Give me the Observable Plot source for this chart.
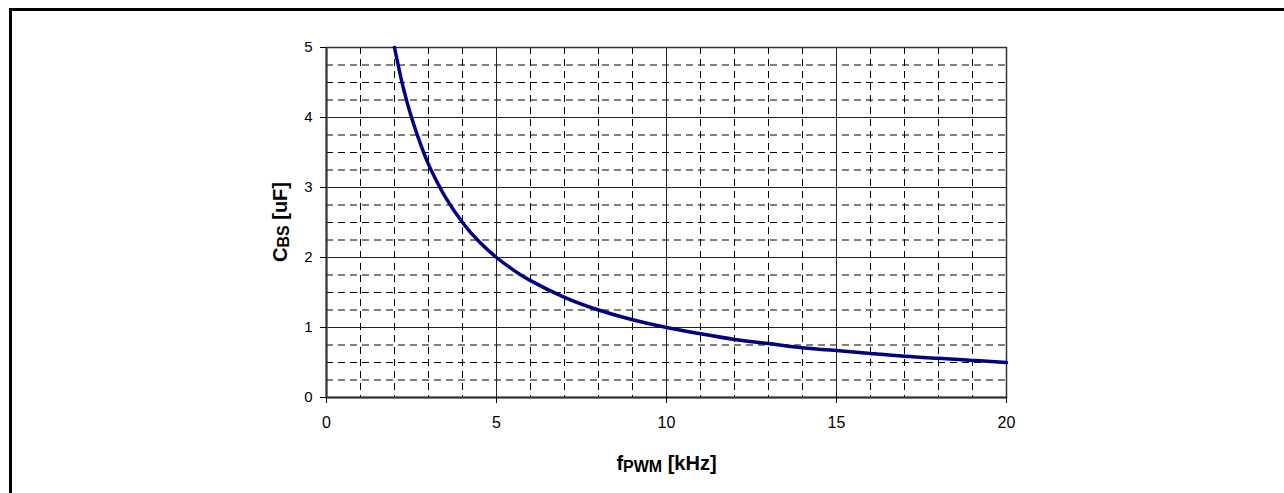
<!DOCTYPE html>
<html>
<head>
<meta charset="utf-8">
<script src="https://cdn.jsdelivr.net/npm/d3@7"></script>
<script src="https://cdn.jsdelivr.net/npm/@observablehq/plot@0.6"></script>
<style>
  html, body { margin: 0; padding: 0; background: #fff; overflow: hidden; }
  #wrap { position: relative; width: 1284px; height: 493px; }
  #border { position: absolute; left: 9px; top: 8px; width: 1400px; height: 600px;
            border-left: 3px solid #000; border-top: 3px solid #000; z-index: 2; pointer-events: none; }
  #chart { position: absolute; left: 0; top: 0; }
  #chart svg g[aria-label="y-axis tick label"], #chart svg g[aria-label="y-axis tick label"] text {
    font-size: 15px !important; font-family: Arial, 'Liberation Sans', sans-serif !important;
  }
  #chart svg g[aria-label="x-axis tick label"], #chart svg g[aria-label="x-axis tick label"] text {
    font-size: 16px !important; font-family: Arial, 'Liberation Sans', sans-serif !important;
  }
</style>
</head>
<body>
<div id="wrap"><div id="border"></div><div id="chart"></div></div>
<script>
// Frequency f_PWM [kHz]
const freq = [2, 2.25, 2.5, 2.75, 3, 3.25, 3.5, 4, 4.5, 5, 5.5, 6, 7, 8, 9, 10, 11, 12, 13, 14, 15, 16, 17, 18, 19, 20];
// Bootstrap capacitance C_BS [uF]
const cbs = [5, 4.44, 4.0, 3.64, 3.33, 3.08, 2.86, 2.5, 2.22, 2.0, 1.82, 1.67, 1.43, 1.25, 1.11, 1.0, 0.91, 0.83, 0.77, 0.71, 0.67, 0.63, 0.59, 0.56, 0.53, 0.5];

const xTicks = [0, 5, 10, 15, 20];
const yTicks = [0, 1, 2, 3, 4, 5];
const xMinor = [1, 2, 3, 4, 6, 7, 8, 9, 11, 12, 13, 14, 16, 17, 18, 19];
const yMinor = [0.25, 0.5, 0.75, 1.25, 1.5, 1.75, 2.25, 2.5, 2.75, 3.25, 3.5, 3.75, 4.25, 4.5, 4.75];

const data = freq.map((f, i) => ({f, c: cbs[i]}));

const chart = Plot.plot({
  width: 1284,
  height: 493,
  marginLeft: 326,
  marginRight: 278,
  marginTop: 47,
  marginBottom: 96,
  style: {fontFamily: "Arial, 'Liberation Sans', sans-serif", fontSize: "15px", background: "transparent", color: "#000"},
  x: {domain: [0, 20]},
  y: {domain: [0, 5]},
  marks: [
    Plot.ruleX(xMinor, {stroke: "#000", strokeWidth: 1, strokeDasharray: "7,5"}),
    Plot.ruleY(yMinor, {stroke: "#000", strokeWidth: 1, strokeDasharray: "7,5"}),
    Plot.ruleX(xTicks, {stroke: "#222", strokeWidth: 1}),
    Plot.ruleY(yTicks, {stroke: "#222", strokeWidth: 1}),
    Plot.frame({stroke: "#333", strokeWidth: 1.5}),
    Plot.ruleX([0], {stroke: "#333", strokeWidth: 2}),
    Plot.ruleY([0], {stroke: "#333", strokeWidth: 2}),
    Plot.line(data, {x: "f", y: "c", stroke: "#000080", strokeWidth: 3.5, curve: "natural"}),
    Plot.axisX({ticks: xTicks, tickSize: 6, tickPadding: 13, label: null, fontSize: 16, tickFormat: d => String(d)}),
    Plot.axisY({ticks: yTicks, tickSize: 6, tickPadding: 8, label: null, fontSize: 15, tickFormat: d => String(d)})
  ]
});

document.getElementById("chart").appendChild(chart);

// Axis titles with subscripts
const svg = d3.select(chart);
const xs = chart.scale("x"), ys = chart.scale("y");
const xt = svg.append("text")
  .attr("x", (xs.apply(0) + xs.apply(20)) / 2 + 0.5)
  .attr("y", 470)
  .attr("text-anchor", "middle")
  .attr("font-weight", "bold")
  .attr("font-size", "20px")
  .attr("fill", "#000");
xt.append("tspan").text("f");
xt.append("tspan").attr("font-size", "16px").attr("dy", 2).text("PWM");
xt.append("tspan").attr("dy", -2).text(" [kHz]");

const yc = (ys.apply(0) + ys.apply(5)) / 2;
const yt = svg.append("text")
  .attr("transform", `translate(287,${yc}) rotate(-90)`)
  .attr("text-anchor", "middle")
  .attr("font-weight", "bold")
  .attr("font-size", "20px")
  .attr("fill", "#000");
yt.append("tspan").text("C");
yt.append("tspan").attr("font-size", "16px").attr("dy", 2).text("BS");
yt.append("tspan").attr("dy", -2).text(" [uF]");
</script>
</body>
</html>
